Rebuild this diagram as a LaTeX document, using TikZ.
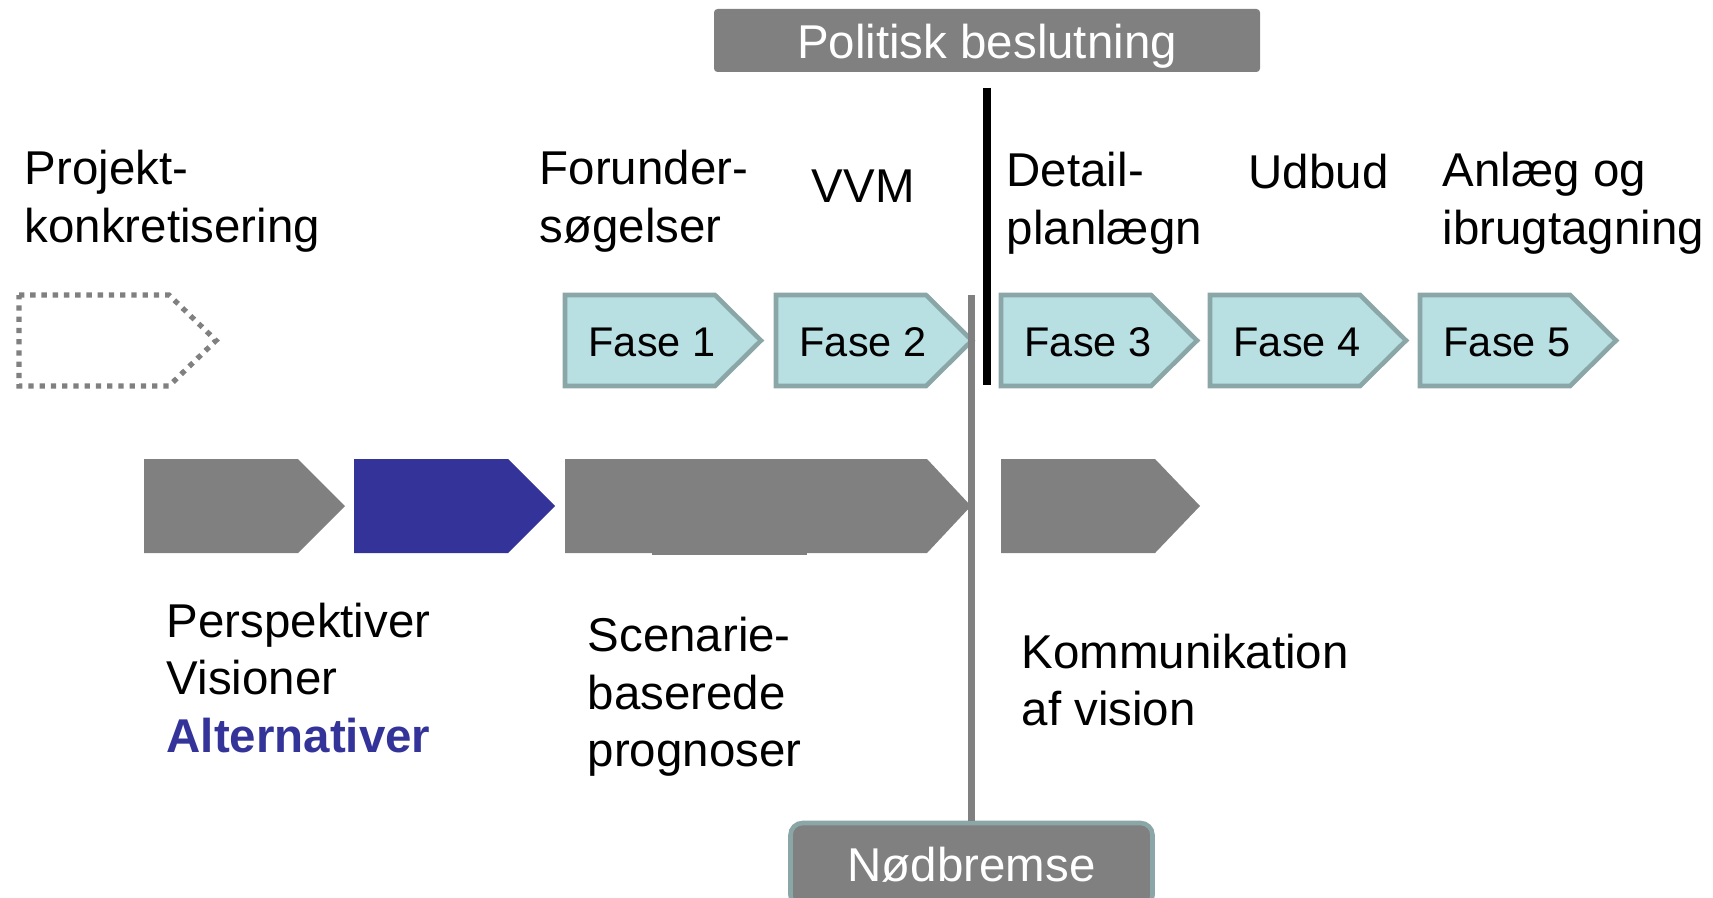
\documentclass[tikz,border=0pt]{standalone}
\usepackage{fontspec}
\setmainfont{Liberation Sans}
\usetikzlibrary{positioning}

\definecolor{fasefill}{HTML}{B8DFE2}
\definecolor{faseline}{HTML}{8AA6A7}
\definecolor{midgray}{HTML}{808080}
\definecolor{altblue}{HTML}{333399}

\newcommand{\bigtxt}{\fontsize{13.5}{16.4}\selectfont}
\newcommand{\fasetxt}{\fontsize{11.8}{14}\selectfont}

\tikzset{
  fase/.style={draw=faseline, fill=fasefill, line width=1.3pt, line join=miter},
  greyarrow/.style={fill=midgray},
  dotbox/.style={draw=midgray, line width=1.5pt, dash pattern=on 1.5pt off 1.7pt},
  txt/.style={anchor=west, align=left, inner sep=0pt, font=\bigtxt},
  topbox/.style={fill=midgray, text=white, inner sep=0pt, rounded corners=1pt, font=\bigtxt}
}

\begin{document}
\begin{tikzpicture}
\useasboundingbox (0,0) rectangle (17.13,8.97);

% top row
\draw[dotbox] (0.19,6.02) -- (1.69,6.02) -- (2.16,5.565) -- (1.69,5.11) -- (0.19,5.11) -- cycle;
\foreach \x/\n in {5.65/1,7.76/2,10.01/3,12.10/4,14.20/5} {
  \draw[fase] (\x,6.02) -- (\x+1.50,6.02) -- (\x+1.96,5.565) -- (\x+1.50,5.11) -- (\x,5.11) -- cycle;
  \node[font=\fasetxt] (f\n) at (\x+0.87,5.55) {Fase \n};
}

% bottom row
\fill[greyarrow] (1.44,4.38) -- (2.98,4.38) -- (3.45,3.91) -- (2.98,3.44) -- (1.44,3.44) -- cycle;
\fill[altblue] (3.54,4.38) -- (5.08,4.38) -- (5.55,3.91) -- (5.08,3.44) -- (3.54,3.44) -- cycle;
\fill[greyarrow] (5.65,4.38) -- (9.27,4.38) -- (9.71,3.91) -- (9.27,3.44) -- (5.65,3.44) -- cycle;
\fill[greyarrow] (6.52,3.42) rectangle (8.07,4.36);
\fill[greyarrow] (10.01,4.38) -- (11.55,4.38) -- (12.00,3.91) -- (11.55,3.44) -- (10.01,3.44) -- cycle;

% boxes
\node[topbox, minimum width=5.46cm, minimum height=0.63cm, text height=0.46cm, text depth=0.1cm] (pol) at (9.87,8.565) {Politisk beslutning};
\node[topbox, draw=faseline, line width=1.3pt, rounded corners=0.12cm,
      minimum width=3.62cm, minimum height=0.84cm] (nod) at (9.715,0.32) {Nødbremse};

\coordinate (beslut) at (9.87,5.12);
\coordinate (brake) at (9.715,6.02);
\draw[line width=0.08cm] ([yshift=-0.15cm]pol.south) -- (beslut);
\draw[midgray, line width=0.07cm] (brake) -- (nod.north);

% labels
\node[txt] (projekt) at (0.24,6.96) {Projekt-\\konkretisering};
\node[txt] (forund) at (5.39,6.96) {Forunder-\\søgelser};
\node[txt] (vvm) at (8.11,7.11) {VVM};
\node[txt] (detail) at (10.06,6.94) {Detail-\\planlægn};
\node[txt] (udbud) at (12.48,7.25) {Udbud};
\node[txt] (anlaeg) at (14.42,6.94) {Anlæg og\\ibrugtagning};

\node[txt] (persp) at (1.66,2.19) {Perspektiver\\Visioner\\\textcolor{altblue}{\textbf{Alternativer}}};
\node[txt] (scen) at (5.87,2.00) {Scenarie-\\baserede\\prognoser};
\node[txt] (komm) at (10.21,2.17) {Kommunikation\\af vision};
\end{tikzpicture}
\end{document}
